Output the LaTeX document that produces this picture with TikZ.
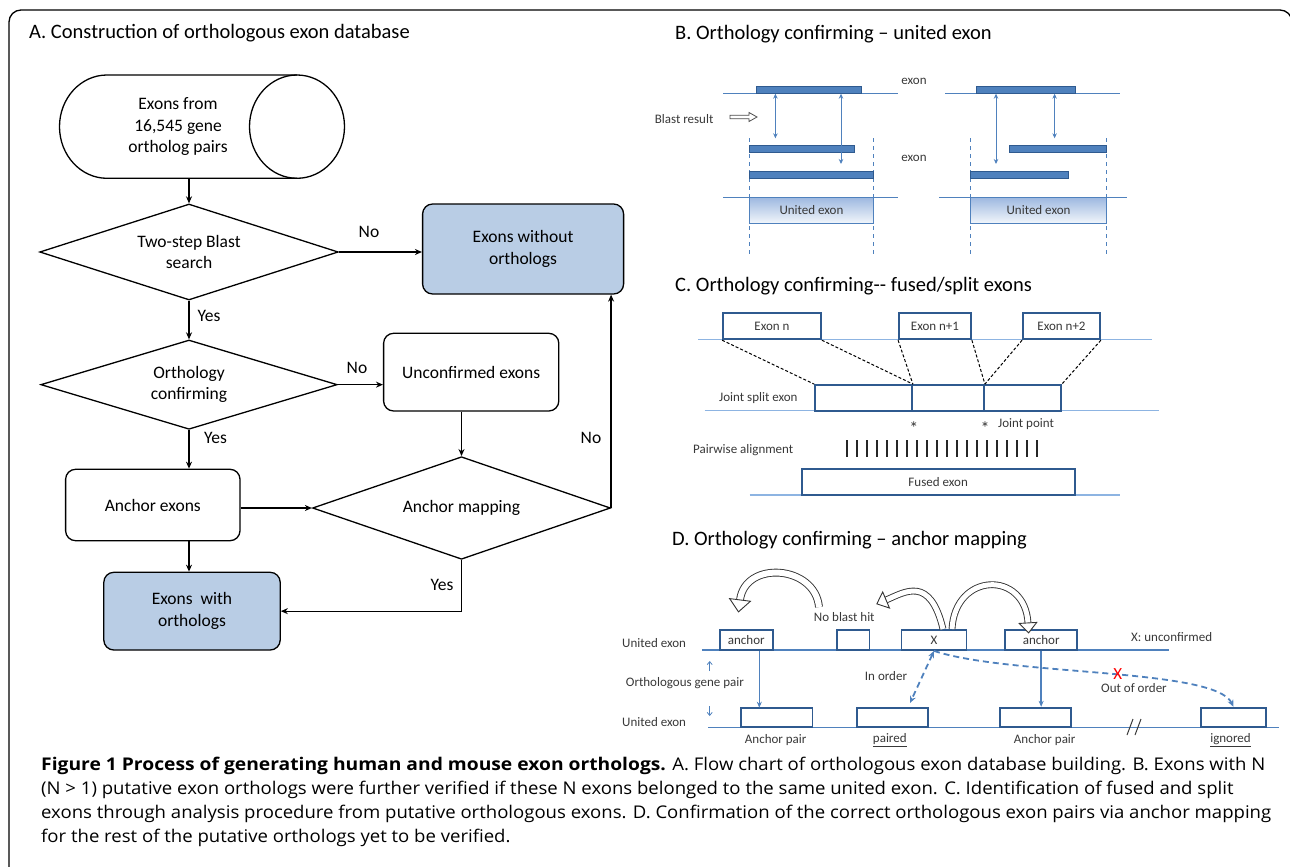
\documentclass[tikz,border=0pt]{standalone}
\usepackage{fontspec}
\setmainfont{Carlito}
\newfontfamily\capfont[FakeStretch=1.06,BoldFeatures={FakeStretch=1.1}]{Open Sans}
\usetikzlibrary{arrows.meta,positioning,shapes.geometric,calc,decorations.markings}

\definecolor{boxblue}{HTML}{B9CDE5}
\definecolor{lineblue}{HTML}{4F81BD}
\definecolor{darkblue}{HTML}{2F5A8F}
\definecolor{paleblue}{HTML}{8DB4E2}
\definecolor{unitedtop}{HTML}{9DB8E0}
\definecolor{unitedbot}{HTML}{F2F6FB}
\definecolor{labelgray}{HTML}{383838}

% hollow curved arrow: start, control 1, control 2, end, shaft width
\newcommand{\hollowcurve}[5]{%
  \draw[myhollow,double distance=#5] (#1) .. controls (#2) and (#3) .. (#4);
  \path[decorate,decoration={markings,mark=at position 0.999 with
    {\draw[myhead] (0pt,{-1.75*#5}) -- ({2*#5},0pt) -- (0pt,{1.75*#5}) -- cycle;}}]
    (#1) .. controls (#2) and (#3) .. (#4);}

\begin{document}
\begin{tikzpicture}[
    x=1pt, y=-1pt,
    mybox/.style={
    rectangle,
    rounded corners=10pt,
    draw=black,
    line width=1.3pt,
    inner sep=0pt,
    align=center,
    font=\fontsize{17.5}{21.5}\selectfont},
    mydiamond/.style={
    diamond,
    draw=black,
    line width=1.3pt,
    inner sep=0pt,
    align=center,
    font=\fontsize{17.5}{21.5}\selectfont},
    myarrow/.style={-{Stealth[length=7pt,width=6pt]},line width=1.3pt},
    mylabel/.style={inner sep=0pt,font=\fontsize{17.5}{21.5}\selectfont},
    mytitle/.style={anchor=base west,inner sep=0pt,font=\fontsize{20.5}{24}\selectfont},
    mytext/.style={inner sep=0pt,text=labelgray,font=\fontsize{13}{15}\selectfont},
    mybar/.style={rectangle,fill=lineblue,draw=darkblue,line width=0.8pt,
      minimum height=6.6pt,inner sep=0pt},
    myunited/.style={rectangle,draw=lineblue,line width=1.5pt,top color=unitedtop,
      bottom color=unitedbot,minimum height=26pt,inner sep=0pt,text=labelgray,
      font=\fontsize{13}{15}\selectfont},
    myexon/.style={rectangle,draw=darkblue,line width=1.8pt,fill=white,
      minimum height=26pt,inner sep=0pt,text=labelgray,font=\fontsize{13}{15}\selectfont},
    myline/.style={draw=lineblue,line width=1pt},
    mypale/.style={draw=paleblue,line width=1.5pt},
    myguide/.style={draw=lineblue,line width=1pt,dash pattern=on 4pt off 4pt},
    mymap/.style={draw=black,line width=1pt,dash pattern=on 3pt off 2pt},
    mydarrow/.style={draw=lineblue,line width=1pt,
      {Stealth[length=5pt,width=4.5pt]}-{Stealth[length=5pt,width=4.5pt]}},
    myvarrow/.style={draw=lineblue,line width=1.4pt,-{Stealth[length=6pt,width=5pt]}},
    mydashed/.style={draw=lineblue,line width=1.8pt,dash pattern=on 6pt off 4pt},
    mysmall/.style={draw=lineblue,line width=0.8pt,-{Straight Barb[length=3pt,width=5pt]}},
    myhollow/.style={draw=black!80,line width=0.9pt,double=white},
    myhead/.style={draw=black!80,fill=white,line width=0.9pt},
    mycaption/.style={anchor=base west,align=left,inner sep=0pt,
      font=\capfont\fontsize{17.5}{24}\selectfont}
    ]

    \useasboundingbox (0,0) rectangle (1290,867);
    \draw[line width=1.3pt,rounded corners=12pt] (9,870) -- (9,10) -- (1292,10) -- (1292,870);

    % A. flow chart
    \node[mytitle] (titleA) at (29,39) {A. Construction of orthologous exon database};

    \draw[line width=1.3pt] (297,75) -- (107,75)
      arc[start angle=-90,end angle=-270,x radius=47.5,y radius=51.65] -- (297,178.3);
    \draw[line width=1.3pt] (297,126.65) ellipse[x radius=47.5,y radius=51.65];
    \node[mylabel,align=center,minimum height=103.3pt] (cyl) at (178,126.65)
      {Exons from\\16,545 gene\\ortholog pairs};

    \node[mydiamond,aspect=3.11,minimum width=298.5pt,minimum height=96pt] (blast) at (189,252) {Two-step Blast\\search};
    \node[mybox,fill=boxblue,minimum width=201pt,minimum height=90pt] (without) at (523.1,249) {Exons without\\orthologs};
    \node[mydiamond,aspect=3.32,minimum width=296.4pt,minimum height=89.3pt] (confirm) at (189,384.65) {Orthology\\confirming};
    \node[mybox,minimum width=175.2pt,minimum height=77.7pt] (unconf) at (471.2,372.15) {Unconfirmed exons};
    \node[mydiamond,aspect=2.9,minimum width=297.9pt,minimum height=102.6pt] (mapping) at (461.5,508) {Anchor mapping};
    \node[mybox,minimum width=174.4pt,minimum height=71.4pt] (anchor) at (152.8,505) {Anchor exons};
    \node[mybox,fill=boxblue,minimum width=176.4pt,minimum height=77.7pt] (with) at (192,611.15) {Exons~~with\\orthologs};

    \draw[myarrow] (cyl.south -| blast.north) -- (blast.north);
    \draw[myarrow] (blast.east) -- (blast.east -| without.west);
    \draw[myarrow] (blast.south) -- (confirm.north);
    \draw[myarrow] (confirm.east) -- (confirm.east -| unconf.west);
    \draw[myarrow] (unconf.south -| mapping.north) -- (mapping.north);
    \draw[myarrow] (confirm.south) -- (confirm.south |- anchor.north);
    \draw[myarrow] (anchor.east |- mapping.west) -- (mapping.west);
    \draw[myarrow] (confirm.south |- anchor.south) -- (confirm.south |- with.north);
    \draw[myarrow] (mapping.east) -- (mapping.east |- without.south);
    \draw[myarrow] (mapping.south) |- (with.east);

    \node[mylabel] (no1) at (369,232) {No};
    \node[mylabel] (yes1) at (209,316) {Yes};
    \node[mylabel] (no2) at (357,368) {No};
    \node[mylabel] (yes2) at (215.5,438) {Yes};
    \node[mylabel] (no3) at (591,438) {No};
    \node[mylabel] (yes3) at (442,585) {Yes};

    % B. united exon
    \node[mytitle] (titleB) at (675,40) {B. Orthology confirming -- united exon};
    \draw[myline] (723,93.3) -- (898,93.3);
    \draw[myline] (723,197.3) -- (898,197.3);
    \draw[myline] (945,93.3) -- (1120,93.3);
    \draw[myline] (939,197.3) -- (1126.7,197.3);
    \draw[myguide] (749.6,138.3) -- (749.6,256.7);
    \draw[myguide] (873.3,138.3) -- (873.3,256.7);
    \draw[myguide] (970.4,138.3) -- (970.4,256.7);
    \draw[myguide] (1106.7,138.3) -- (1106.7,256.7);

    \node[mybar,minimum width=105pt] (topL) at (808.5,90) {};
    \node[mybar,minimum width=105pt] (midL) at (802.1,148.8) {};
    \node[mybar,minimum width=123.7pt] (lowL) at (811.45,174.65) {};
    \node[myunited,minimum width=123.7pt] (unitedL) at (811.45,210.3) {United exon};
    \node[mybar,minimum width=98.7pt] (topR) at (1026.05,90) {};
    \node[mybar,minimum width=97.1pt] (midR) at (1058.15,148.8) {};
    \node[mybar,minimum width=97.9pt] (lowR) at (1019.35,174.65) {};
    \node[myunited,minimum width=136.3pt] (unitedR) at (1038.55,210.3) {United exon};

    \coordinate (tipL1) at (775.4,138.3);
    \coordinate (tipL2) at (841,164);
    \coordinate (tipR1) at (996,164);
    \coordinate (tipR2) at (1054.6,138.3);
    \draw[mydarrow] (topL.south -| tipL1) -- (tipL1);
    \draw[mydarrow] (topL.south -| tipL2) -- (tipL2);
    \draw[mydarrow] (topR.south -| tipR1) -- (tipR1);
    \draw[mydarrow] (topR.south -| tipR2) -- (tipR2);

    \node[mytext] (exonB1) at (914,81) {exon};
    \node[mytext] (exonB2) at (914,158.3) {exon};
    \node[mytext,anchor=west] (blastres) at (654.6,119) {Blast result};
    \draw[black!70,fill=white,line width=0.8pt] (730,115.3) -- (749,115.3) -- (749,112.5)
      -- (757,117) -- (749,121.5) -- (749,118.7) -- (730,118.7) -- cycle;

    % C. fused / split exons
    \node[mytitle] (titleC) at (675,291.7) {C. Orthology confirming-{}- fused/split exons};
    \draw[mypale] (698,339.3) -- (1151.7,339.3);
    \draw[mypale] (704.6,410.7) -- (1158.75,410.7);
    \draw[mypale] (749.6,495) -- (1120,495);

    \node[myexon,minimum width=98pt] (exn) at (772,326.3) {Exon n};
    \node[myexon,minimum width=72pt] (exn1) at (935,326.3) {Exon n+1};
    \node[myexon,minimum width=77pt] (exn2) at (1061.5,326.3) {Exon n+2};
    \node[myexon,minimum width=97pt,minimum height=25.7pt] (js1) at (863.5,397.85) {};
    \node[myexon,minimum width=72pt,minimum height=25.7pt] (js2) at (948,397.85) {};
    \node[myexon,minimum width=77pt,minimum height=25.7pt] (js3) at (1022.5,397.85) {};
    \node[myexon,minimum width=272.9pt] (fused) at (938.15,482) {Fused exon};

    \draw[mymap] (exn.south west) -- (js1.north west);
    \draw[mymap] (exn.south east) -- (js1.north east);
    \draw[mymap] (exn1.south west) -- (js1.north east);
    \draw[mymap] (exn1.south east) -- (js2.north east);
    \draw[mymap] (exn2.south west) -- (js2.north east);
    \draw[mymap] (exn2.south east) -- (js3.north east);

    \node[mytext,anchor=west] (jsplit) at (719,398) {Joint split exon};
    \node[mytext,font=\fontsize{18}{18}\selectfont] (star1) at (913.75,428) {*};
    \node[mytext,font=\fontsize{18}{18}\selectfont] (star2) at (985,428) {*};
    \node[mytext,anchor=west] (jpoint) at (998,424) {Joint point};
    \node[mytext,anchor=west] (pairwise) at (693,450) {Pairwise alignment};
    \foreach \i in {0,...,19}
      \draw[line width=1.2pt,black!85] ({847+10*\i},440) -- ++(0,16.7);

    % D. anchor mapping
    \node[mytitle] (titleD) at (672,545) {D. Orthology confirming -- anchor mapping};
    \draw[myline,line width=1.3pt] (701.8,650) -- (1168.6,650);
    \draw[myline,line width=1.3pt] (708,727.3) -- (1279,727.3);

    \node[myexon,minimum height=19.7pt,minimum width=52.6pt] (anc1) at (746.3,640.15) {anchor};
    \node[myexon,minimum height=19.7pt,minimum width=32.5pt] (nohit) at (853.25,640.15) {};
    \node[myexon,minimum height=19.7pt,minimum width=65pt] (xbox) at (934,640.15) {X};
    \node[myexon,minimum height=19.7pt,minimum width=72.3pt] (anc2) at (1041.15,640.15) {anchor};
    \node[myexon,minimum height=19.6pt,minimum width=71.7pt] (pair1) at (776.55,717.5) {};
    \node[myexon,minimum height=19.6pt,minimum width=71.7pt] (paired) at (892.45,717.5) {};
    \node[myexon,minimum height=19.6pt,minimum width=71.6pt] (pair2) at (1035.4,717.5) {};
    \node[myexon,minimum height=19.6pt,minimum width=65.1pt] (ignored) at (1233.45,717.5) {};

    \coordinate (anctip) at (759.3,707.7);
    \coordinate (pairtip) at (910,703);
    \draw[myvarrow] (anc1.south -| anctip) -- (anctip);
    \draw[myvarrow] (anc2.south) -- (anc2.south |- pair2.north);
    \draw[mydashed,{Stealth[length=7pt,width=6pt]}-{Stealth[length=7pt,width=6pt]}] (xbox.south) -- (pairtip);
    \draw[mydashed,-{Stealth[length=7pt,width=6pt]}] (xbox.south)
      .. controls (1010,676) and (1215,668) .. (ignored.north);

    \hollowcurve{819,607}{815,565}{745,560}{740,600}{6pt}
    \hollowcurve{943,629}{930,575}{905,592}{886,600}{5pt}
    \hollowcurve{952,629}{955,572}{1025,570}{1028,623}{5pt}

    \node[mytext,anchor=west] (uexon1) at (622,643.3) {United exon};
    \node[mytext,anchor=west] (uexon2) at (622,721.7) {United exon};
    \node[mytext,anchor=west] (genepair) at (625.7,682.7) {Orthologous gene pair};
    \draw[mysmall] (709.7,671) -- (709.7,661);
    \draw[mysmall] (709.7,706) -- (709.7,716);
    \node[mytext] (noblast) at (844.3,616.7) {No blast hit};
    \node[mytext,anchor=west] (unconfD) at (1131,637.3) {X: unconfirmed};
    \node[mytext] (inorder) at (886,676) {In order};
    \node[mytext] (outorder) at (1134,688) {Out of order};
    \node[inner sep=0pt,text=red,font=\fontsize{17}{17}\selectfont] (redx) at (1117.7,674) {X};
    \node[mytext] (apair1) at (775.7,740) {Anchor pair};
    \node[mytext] (lpaired) at (889.8,740) {\underline{paired}};
    \node[mytext] (apair2) at (1044.7,740) {Anchor pair};
    \node[mytext] (lignored) at (1230.5,740) {\underline{ignored}};
    \draw[labelgray,line width=1pt] (1127,735) -- (1133,719) (1135,735) -- (1141,719);

    % caption
    \node[mycaption] (caption) at (41,842) {\textbf{Figure 1 Process of generating human and mouse exon orthologs.} A. Flow chart of orthologous exon database building. B. Exons with N\\(N > 1) putative exon orthologs were further verified if these N exons belonged to the same united exon. C. Identification of fused and split\\exons through analysis procedure from putative orthologous exons. D. Confirmation of the correct orthologous exon pairs via anchor mapping\\for the rest of the putative orthologs yet to be verified.};
\end{tikzpicture}
\end{document}
